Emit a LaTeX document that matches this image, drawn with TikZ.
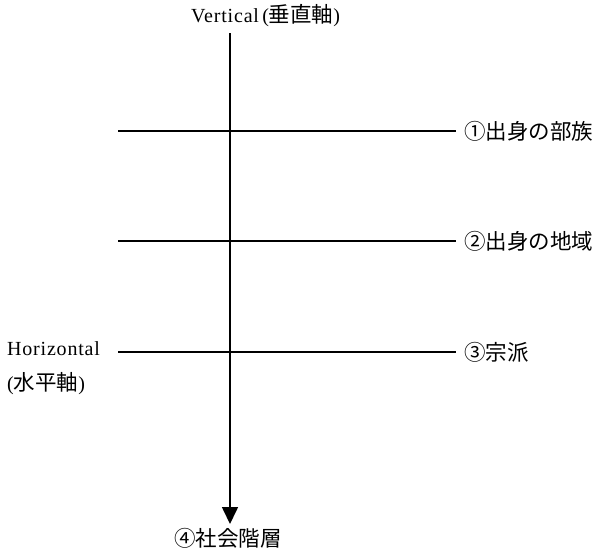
\documentclass[tikz,border=0pt]{standalone}
\usepackage{fontspec}
\setmainfont{Liberation Serif}
\newfontfamily\latin[LetterSpace=4]{Liberation Serif}
\newfontfamily\jp{Noto Sans CJK JP}
\usetikzlibrary{arrows.meta}
\tikzset{
  axis/.style={line width=1.6pt},
  level/.style={line width=1.3pt},
  lbl/.style={inner sep=0pt, font=\fontsize{20}{23}\selectfont},
  jplbl/.style={inner sep=0pt, font=\fontsize{21.5}{24}\selectfont\jp},
  rowlbl/.style={jplbl, anchor=west}
}
\begin{document}
\begin{tikzpicture}[x=1pt, y=-1pt]
    \useasboundingbox (0,0) rectangle (597,558);

    % 垂直軸
    \node[lbl, anchor=west] (vert) at (191,16) {{\latin Vertical}\,({\fontsize{21.5}{23}\selectfont\jp 垂直軸})};
    \node[jplbl] (stratum) at (228,538) {④社会階層};
    \coordinate (vtop) at (230,33);
    \coordinate (vbot) at (230,524);
    \draw[axis, -{Triangle[width=16pt, length=17pt]}] (vtop) -- (vbot);

    % 水平軸
    \node[rowlbl] (tribe)  at (464,131) {①出身の部族};
    \node[rowlbl] (region) at (464,241) {②出身の地域};
    \node[rowlbl] (sect)   at (464,352) {③宗派};
    \coordinate (tribeL)  at (118,131);
    \coordinate (regionL) at (118,241);
    \coordinate (sectL)   at (118,352);
    \draw[level] (tribeL)  -- ([xshift=-8pt]tribe.west);
    \draw[level] (regionL) -- ([xshift=-8pt]region.west);
    \draw[level] (sectL)   -- ([xshift=-8pt]sect.west);

    \node[lbl, anchor=west] (horiz) at (7,349) {\latin Horizontal};
    \node[lbl, anchor=west] (horizjp) at (7,384) {({\fontsize{21.5}{23}\selectfont\jp 水平軸})};
\end{tikzpicture}
\end{document}
